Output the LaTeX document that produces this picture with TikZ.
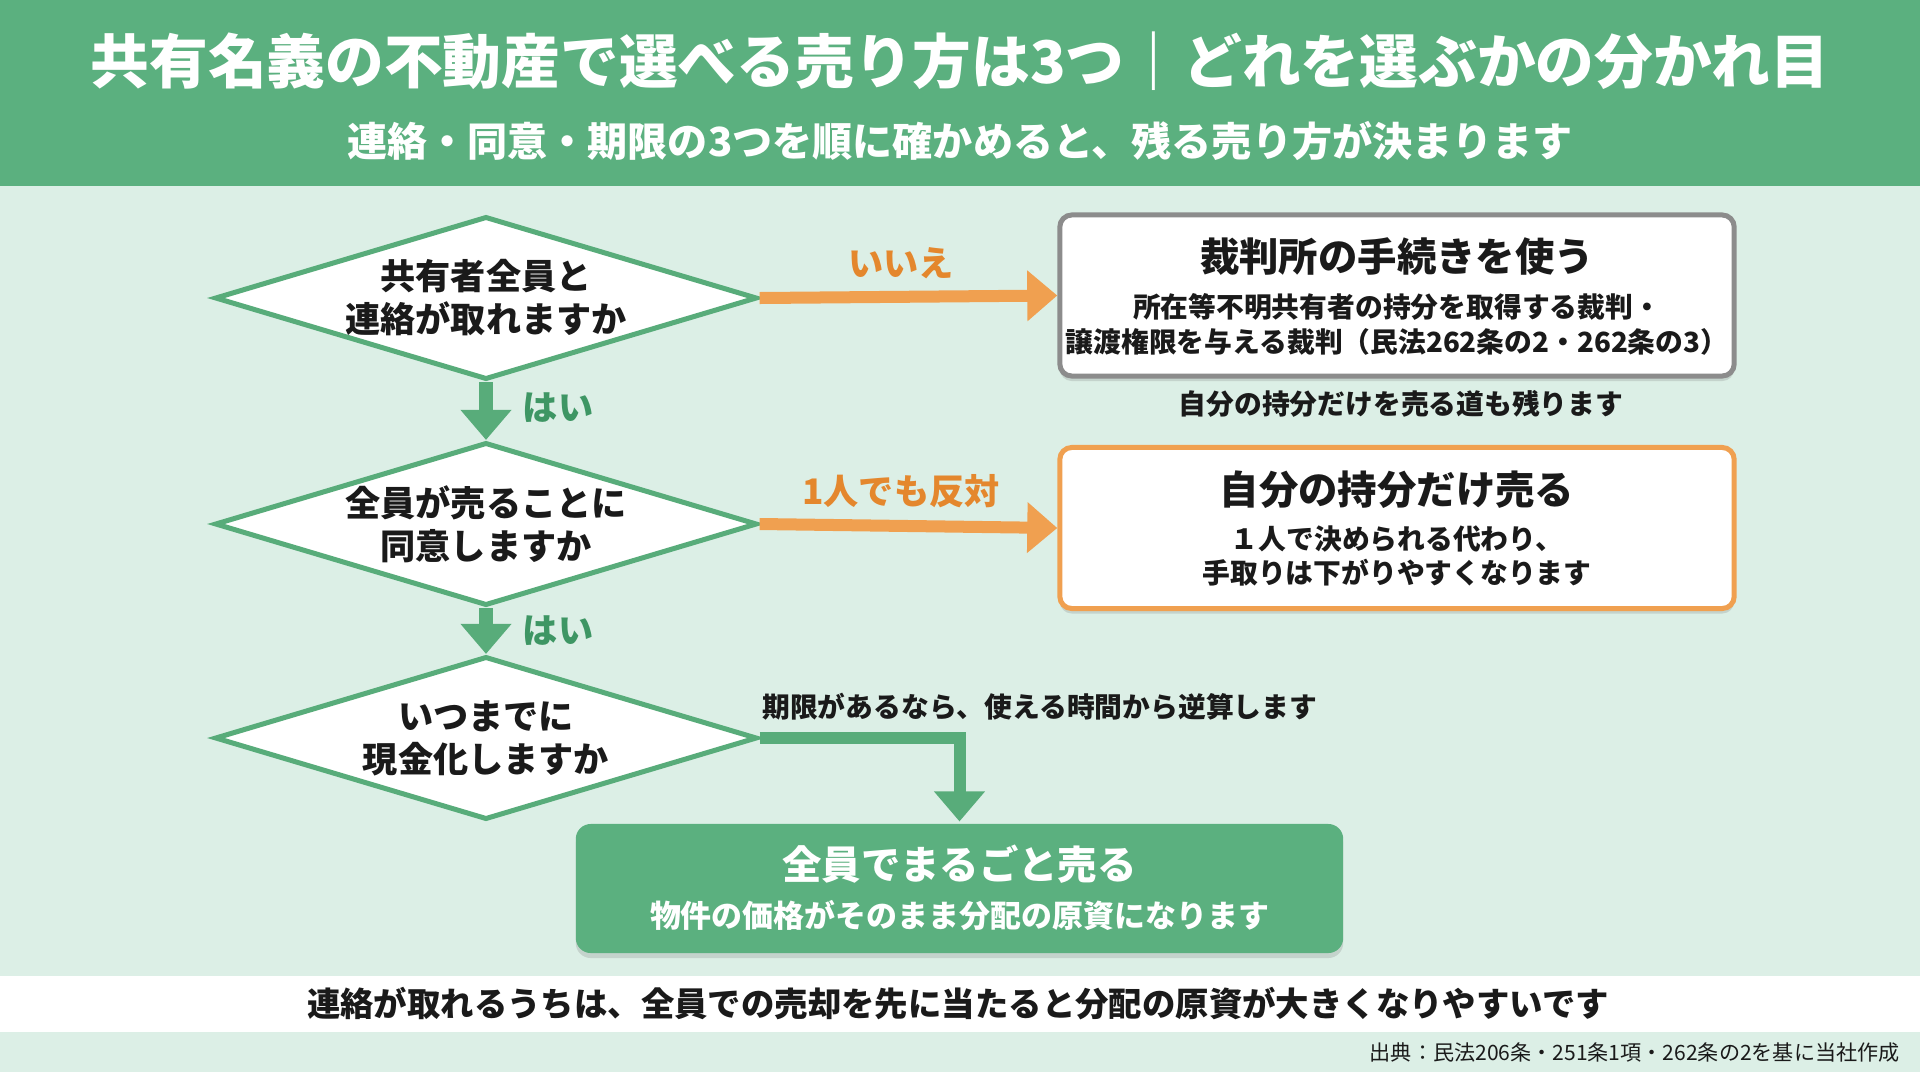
\documentclass[tikz,border=0pt]{standalone}
\usepackage{fontspec}
\setmainfont{Noto Sans CJK JP}
\usetikzlibrary{shapes.geometric,arrows.meta,shadows}
\definecolor{headgreen}{RGB}{91,176,127}
\definecolor{mint}{RGB}{220,239,230}
\definecolor{dgreen}{RGB}{88,172,122}
\definecolor{labgreen}{RGB}{62,150,100}
\definecolor{orng}{RGB}{240,160,80}
\definecolor{laborng}{RGB}{228,135,45}
\definecolor{boxgray}{RGB}{140,140,140}
\definecolor{ink}{RGB}{26,26,26}
\begin{document}
\begin{tikzpicture}[x=0.01cm,y=-0.01cm,
  ask/.style={diamond,aspect=3.33,draw=dgreen,line width=0.05cm,fill=white,
    minimum width=5.42cm,minimum height=1.63cm,inner xsep=-0.35cm,inner ysep=0pt,
    align=center,text=ink,font=\fontsize{10}{12.2}\selectfont\bfseries},
  result/.style={rectangle,rounded corners=0.12cm,line width=0.05cm,fill=white,
    minimum width=6.74cm,minimum height=1.61cm,
    drop shadow={opacity=0.25,shadow xshift=0pt,shadow yshift=-0.05cm}},
  rtitle/.style={text=ink,font=\fontsize{11.2}{14}\selectfont\bfseries},
  rsub/.style={text=ink,align=center,font=\fontsize{7.9}{9.9}\selectfont\bfseries},
  oarrow/.style={draw=orng,line width=0.12cm,-{Triangle[width=0.49cm,length=0.3cm]}},
  garrow/.style={draw=dgreen,line width=0.14cm,-{Triangle[width=0.49cm,length=0.3cm]}},
  olabel/.style={text=laborng,font=\fontsize{10}{12}\selectfont\bfseries},
  glabel/.style={text=labgreen,font=\fontsize{10}{12}\selectfont\bfseries},
  note/.style={text=ink,font=\fontsize{7.9}{9.9}\selectfont\bfseries}]
% background
\fill[mint] (0,0) rectangle (1920,1072);
\fill[headgreen] (0,0) rectangle (1920,186);
\fill[white] (0,976) rectangle (1920,1032);
\useasboundingbox (0,0) rectangle (1920,1072);
\node[text=white,font=\fontsize{16.7}{20}\selectfont\bfseries] (title) at (960,61)
  {共有名義の不動産で選べる売り方は3つ｜どれを選ぶかの分かれ目};
\node[text=white,font=\fontsize{11.4}{14}\selectfont\bfseries] (subtitle) at (960,141)
  {連絡・同意・期限の3つを順に確かめると、残る売り方が決まります};
% questions
\node[ask] (d1) at (486,298) {共有者全員と\\連絡が取れますか};
\node[ask] (d2) at (486,524) {全員が売ることに\\同意しますか};
\node[ask] (d3) at (486,738) {いつまでに\\現金化しますか};
% results
\node[result,draw=boxgray] (b1) at (1397,295.5) {};
\node[rtitle] (b1t) at (1397,257) {裁判所の手続きを使う};
\node[rsub] (b1s) at (1397,324.5) {所在等不明共有者の持分を取得する裁判・\\譲渡権限を与える裁判（民法262条の2・262条の3）};
\node[note] (b1n) at (1401,404) {自分の持分だけを売る道も残ります};
\node[result,draw=orng] (b2) at (1397,528) {};
\node[rtitle] (b2t) at (1397,490) {自分の持分だけ売る};
\node[rsub] (b2s) at (1397,556) {１人で決められる代わり、\\手取りは下がりやすくなります};
\node[result,fill=headgreen,draw=none,rounded corners=0.15cm,
  minimum width=7.67cm,minimum height=1.29cm] (b3) at (959.5,888.5) {};
\node[rtitle,text=white] (b3t) at (959.5,864) {全員でまるごと売る};
\node[text=white,font=\fontsize{8.8}{11}\selectfont\bfseries] (b3s) at (959.5,916)
  {物件の価格がそのまま分配の原資になります};
% connectors
\draw[oarrow] (d1.east) -- (b1.west);
\draw[oarrow] (d2.east) -- (b2.west);
\draw[garrow] (d1.south) -- (d2.north);
\draw[garrow] (d2.south) -- (d3.north);
\draw[garrow,line width=0.12cm] (d3.east) -| (b3.north);
\node[olabel] (no1) at (901,263) {いいえ};
\node[olabel] (no2) at (901,491) {1人でも反対};
\node[glabel] (yes1) at (558,408) {はい};
\node[glabel] (yes2) at (558,631) {はい};
\node[note,anchor=west] (b3n) at (750,707) {期限があるなら、使える時間から逆算します};
% footer
\node[text=ink,font=\fontsize{9.5}{12}\selectfont\bfseries] (foot) at (958,1004)
  {連絡が取れるうちは、全員での売却を先に当たると分配の原資が大きくなりやすいです};
\node[text=ink,anchor=east,font=\fontsize{6}{8}\selectfont] (src) at (1912,1053)
  {出典：民法206条・251条1項・262条の2を基に当社作成};
\end{tikzpicture}
\end{document}
